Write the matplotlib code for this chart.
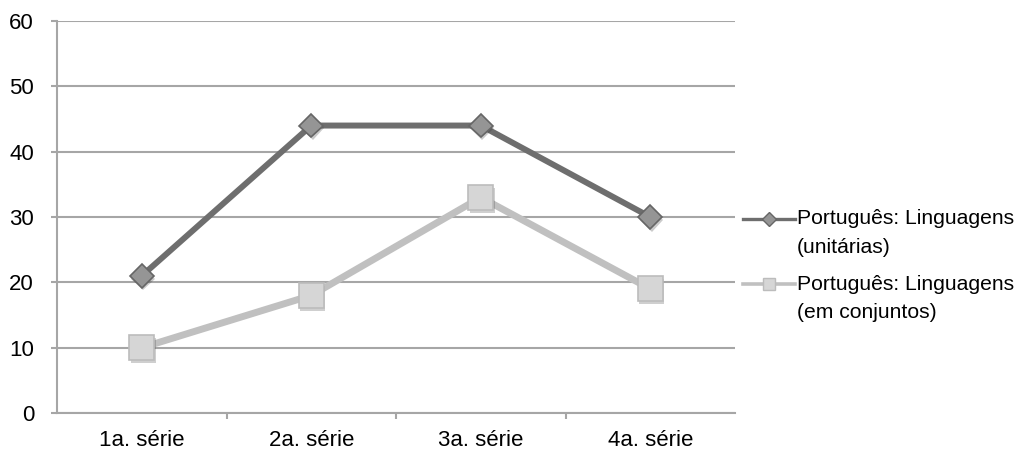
import matplotlib.pyplot as plt
import matplotlib.patheffects as pe
from matplotlib.lines import Line2D
from matplotlib.legend_handler import HandlerLine2D
from matplotlib.ticker import FixedLocator

plt.rcParams['font.family'] = ['Liberation Sans', 'DejaVu Sans']

categories = ["1a. série", "2a. série", "3a. série", "4a. série"]
unitarias = [21, 44, 44, 30]
conjuntos = [10, 18, 33, 19]
labels = ["Português: Linguagens\n(unitárias)", "Português: Linguagens\n(em conjuntos)"]

grid_col = "#a6a6a6"
dark = "#6e6e6e"
light = "#c0c0c0"
FS = 16
LEG_FS = 15.2
LINESP = 1.65


class TopHandler(HandlerLine2D):
    """legend handle lined up with the first text line instead of the middle"""
    def create_artists(self, legend, orig_handle, xdescent, ydescent,
                       width, height, fontsize, trans):
        return super().create_artists(legend, orig_handle, xdescent,
                                      ydescent - 1.33 * fontsize, width, height,
                                      fontsize, trans)


def main():
    fig = plt.figure(figsize=(10.22, 4.59), dpi=100)
    ax = fig.add_axes([0.0558, 0.1002, 0.6634, 0.854])

    shadow = [pe.SimplePatchShadow(offset=(1, -2), alpha=0.25), pe.Normal()]
    x = range(len(categories))
    ax.plot(x, unitarias, color=dark, lw=4.3, zorder=4)
    ax.plot(x, unitarias, ls="none", marker="D", ms=12, mfc="#959595",
            mec="#666666", mew=1.2, zorder=5, path_effects=shadow)
    ax.plot(x, conjuntos, color=light, lw=5, zorder=2)
    ax.plot(x, conjuntos, ls="none", marker="s", ms=18, mfc="#d6d6d6",
            mec="#bcbcbc", mew=1.2, zorder=3, path_effects=shadow)

    ax.set_xlim(-0.5, len(categories) - 0.5)
    ax.set_ylim(0, 60)
    ax.set_yticks(range(0, 61, 10))
    ax.set_xticks(list(x))
    ax.set_xticklabels(categories)
    ax.xaxis.set_minor_locator(FixedLocator([0.5, 1.5, 2.5]))

    ax.grid(axis="y", color=grid_col, lw=1.5)
    ax.set_axisbelow(True)
    for side in ["top", "right"]:
        ax.spines[side].set_visible(False)
    for side in ["left", "bottom"]:
        ax.spines[side].set_color(grid_col)
        ax.spines[side].set_linewidth(1.5)

    ax.tick_params(axis="y", length=4.5, width=1.5, color=grid_col, labelsize=FS, pad=12)
    ax.tick_params(axis="x", which="major", length=0, labelsize=FS, pad=12)
    ax.tick_params(axis="x", which="minor", length=4.5, width=1.5, color=grid_col)

    handles = [
        Line2D([], [], color=dark, lw=2.4, marker="D", ms=7, mfc="#959595",
               mec="#666666", mew=1),
        Line2D([], [], color=light, lw=2.6, marker="s", ms=9, mfc="#d6d6d6",
               mec="#bcbcbc", mew=1),
    ]
    leg = fig.legend(handles, labels, loc="upper left", bbox_to_anchor=(0.727, 0.545),
                     frameon=False, fontsize=LEG_FS, handlelength=2.45, handletextpad=0.1,
                     labelspacing=0.85, borderpad=0, borderaxespad=0,
                     handler_map={Line2D: TopHandler()})
    for t in leg.get_texts():
        t.set_linespacing(LINESP)

    plt.savefig("out.png", dpi=100)
    plt.close()


if __name__ == "__main__":
    main()
